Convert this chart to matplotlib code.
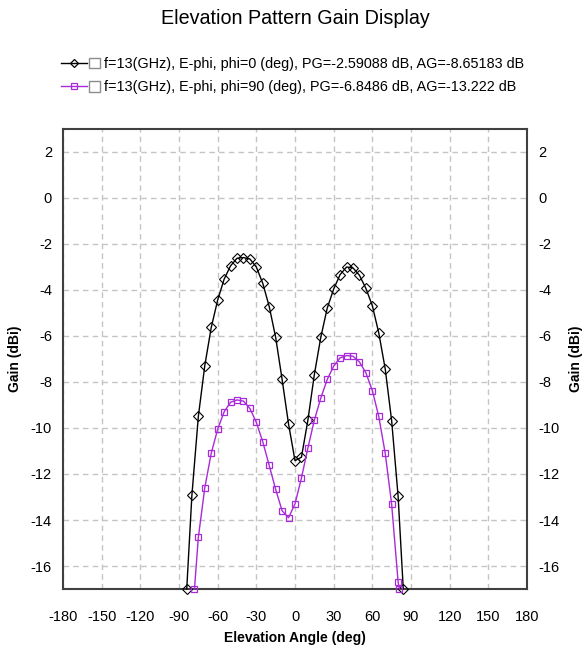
import matplotlib
matplotlib.use('Agg')
import matplotlib.pyplot as plt
from matplotlib.lines import Line2D
from matplotlib.patches import Rectangle
from matplotlib.legend_handler import HandlerBase

# data (deg, dBi)
ang_phi0 = [-84] + list(range(-80, 81, 5)) + [84]
gain_phi0 = [-17, -12.93, -9.5, -7.29, -5.63, -4.44, -3.53, -2.95, -2.62, -2.59, -2.65,
             -3.0, -3.71, -4.72, -6.06, -7.89, -9.83, -11.42, -11.27, -9.66, -7.68,
             -6.06, -4.79, -3.96, -3.33, -3.0, -3.04, -3.36, -3.93, -4.68, -5.87,
             -7.43, -9.69, -12.97, -17]

ang_phi90 = [-78] + list(range(-75, 76, 5)) + [80, 81]
gain_phi90 = [-17, -14.76, -12.6, -11.1, -10.05, -9.3, -8.88, -8.78, -8.83, -9.15,
              -9.76, -10.6, -11.63, -12.67, -13.6, -13.9, -13.3, -12.17, -10.87, -9.66,
              -8.7, -7.89, -7.31, -6.95, -6.85, -6.88, -7.13, -7.6, -8.37, -9.5,
              -11.1, -13.32, -16.7, -17]

labels = ['f=13(GHz), E-phi, phi=0 (deg), PG=-2.59088 dB, AG=-8.65183 dB',
          'f=13(GHz), E-phi, phi=90 (deg), PG=-6.8486 dB, AG=-13.222 dB']
xticks = list(range(-180, 181, 30))
yticks = list(range(-16, 3, 2))

plt.rcParams['font.family'] = ['Liberation Sans', 'DejaVu Sans']
plt.rcParams['axes.unicode_minus'] = False

purple = '#a82ad8'


class BoxHandler(HandlerBase):
    # line + marker + empty check box, like the original legend
    def create_artists(self, legend, orig_handle, xdescent, ydescent,
                       width, height, fontsize, trans):
        y = height / 2 - ydescent
        side = height * 1.05
        ll = width - side - 2
        c = orig_handle.get_color()
        ln = Line2D([-xdescent, -xdescent + ll], [y, y], color=c, lw=1)
        mk = Line2D([-xdescent + ll / 2], [y], marker=orig_handle.get_marker(),
                    ms=4.5, mfc='none', mec=c, mew=0.9, ls='none')
        bx = Rectangle((-xdescent + ll + 2, y - side / 2), side, side,
                       fc='white', ec='#8c8c8c', lw=1)
        for a in (ln, mk, bx):
            a.set_transform(trans)
        return [ln, mk, bx]


fig = plt.figure(figsize=(5.88, 6.52), dpi=100)
ax = fig.add_axes([63 / 588, 1 - 589 / 652, 464 / 588, 460 / 652])

l1, = ax.plot(ang_phi0, gain_phi0, color='black', lw=1, marker='D', ms=4.8,
              mfc='none', mec='black', mew=0.8, clip_on=False, zorder=3)
l2, = ax.plot(ang_phi90, gain_phi90, color=purple, lw=1, marker='s', ms=4.8,
              mfc='none', mec=purple, mew=0.9, clip_on=False, zorder=3)

ax.set_xlim(-180, 180)
ax.set_ylim(-17, 3)
ax.set_xticks(xticks)
ax.set_yticks(yticks)
ax.grid(True, color='#c4c4c4', ls=(0, (4, 3)), lw=1)
ax.tick_params(length=0, labelsize=10.5, labelright=True, color='#404040')
ax.tick_params(axis='x', pad=15)
ax.tick_params(axis='y', pad=8)
for s in ax.spines.values():
    s.set_color('#404040')
    s.set_linewidth(1.5)

fig.text(0.502, 1 - 19 / 652, 'Elevation Pattern Gain Display',
         ha='center', va='center', fontsize=14.2)
fig.text(0.502, 1 - 638 / 652, 'Elevation Angle (deg)', ha='center', va='center',
         fontsize=10, fontweight='bold')
fig.text(15 / 588, 1 - 359 / 652, 'Gain (dBi)', ha='center', va='center',
         rotation=90, fontsize=10, fontweight='bold')
fig.text(576 / 588, 1 - 359 / 652, 'Gain (dBi)', ha='center', va='center',
         rotation=90, fontsize=10, fontweight='bold')

fig.legend([l1, l2], labels, loc='upper left', bbox_to_anchor=(61 / 588, 1 - 57 / 652),
           frameon=False, borderpad=0, borderaxespad=0, fontsize=10.4,
           handlelength=2.7, handletextpad=0.3, labelspacing=0.65,
           handler_map={Line2D: BoxHandler()})

fig.savefig('out.png', dpi=100)
